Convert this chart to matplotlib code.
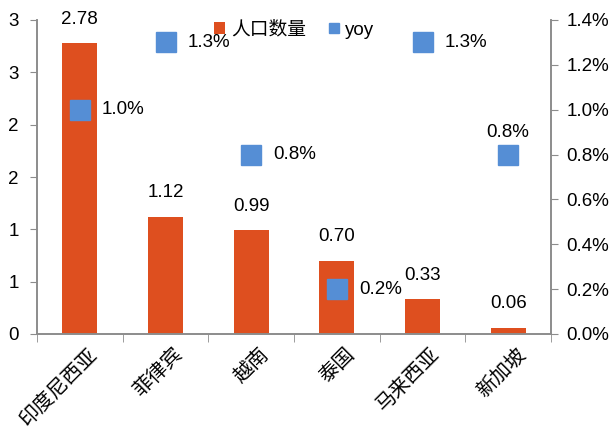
import numpy as np
import matplotlib
matplotlib.use("Agg")
import matplotlib.pyplot as plt
import matplotlib.transforms as mtransforms
from matplotlib.ticker import FuncFormatter, FixedLocator

plt.rcParams['font.family'] = ['Liberation Sans', 'Noto Sans CJK SC']

countries = ['印度尼西亚', '菲律宾', '越南', '泰国', '马来西亚', '新加坡']
population = [2.78, 1.12, 0.99, 0.70, 0.33, 0.06]
yoy = [1.0, 1.3, 0.8, 0.2, 1.3, 0.8]  # %

bar_color = '#DE4F1F'
dot_color = '#558ED5'
axis_gray = '#8C8C8C'

fig = plt.figure(figsize=(6.11, 4.32), dpi=100)
ax = fig.add_axes([37 / 611, 1 - 334 / 432, (551 - 37) / 611, (334 - 20) / 432])
ax2 = ax.twinx()

x = np.arange(len(countries))
ax.bar(x, population, width=0.41, color=bar_color, label='人口数量', zorder=2)
ax2.plot(x, np.array(yoy) / 100, linestyle='none', marker='s', markersize=14,
         color=dot_color, label='yoy', zorder=3)

ax.set_xlim(-0.5, len(countries) - 0.5)
ax.set_ylim(0, 3)
ax2.set_ylim(0, 0.014)
ax.set_yticks(np.arange(0, 3.01, 0.5))
ax.yaxis.set_major_formatter(FuncFormatter(lambda v, p: f"{int(np.floor(v + 0.5))}"))
ax2.set_yticks(np.arange(0, 0.01401, 0.002))
ax2.yaxis.set_major_formatter(FuncFormatter(lambda v, p: f"{v * 100:.1f}%"))

# category labels, ticks on the boundaries
ax.set_xticks(x)
ax.set_xticklabels(countries, rotation=45, ha='right', rotation_mode='anchor',
                   fontsize=14.5, family=['Noto Sans CJK SC'])
ax.tick_params(axis='x', which='major', length=0, pad=7)
shift = mtransforms.ScaledTranslation(5 / 72, 0, fig.dpi_scale_trans)
for lbl in ax.get_xticklabels():
    lbl.set_transform(lbl.get_transform() + shift)
ax.xaxis.set_minor_locator(FixedLocator(np.arange(-0.5, len(countries), 1.0)))
ax.tick_params(axis='x', which='minor', length=6, color=axis_gray, direction='out')

for a in (ax, ax2):
    a.spines['top'].set_visible(False)
    for s in ('left', 'right', 'bottom'):
        a.spines[s].set_color(axis_gray)
        a.spines[s].set_linewidth(1.2)
ax.tick_params(axis='y', length=5, color=axis_gray, labelsize=13.5, pad=8)
ax2.tick_params(axis='y', length=5, color=axis_gray, labelsize=13.5, pad=6)

# bar value labels
for xi, v in zip(x, population):
    ax.annotate(f"{v:.2f}", (xi, v), xytext=(0, 11), textcoords='offset points',
                ha='center', va='bottom', fontsize=13.5)

# yoy labels
for i, (xi, v) in enumerate(zip(x, yoy)):
    if i == len(x) - 1:
        ax2.annotate(f"{v:.1f}%", (xi, v / 100), xytext=(0, 10), textcoords='offset points',
                     ha='center', va='bottom', fontsize=13.5)
    else:
        ax2.annotate(f"{v:.1f}%", (xi, v / 100), xytext=(16, 0), textcoords='offset points',
                     ha='left', va='center', fontsize=13.5)

h1, l1 = ax.get_legend_handles_labels()
h2, l2 = ax2.get_legend_handles_labels()
ax.legend(h1 + h2, l1 + l2, loc='upper center', bbox_to_anchor=(0.5, 1.05), ncol=2,
          frameon=False, fontsize=13.5, handlelength=0.6, handleheight=0.6,
          handletextpad=0.3, columnspacing=1.2, markerscale=0.55)

fig.savefig('out.png', dpi=100)
